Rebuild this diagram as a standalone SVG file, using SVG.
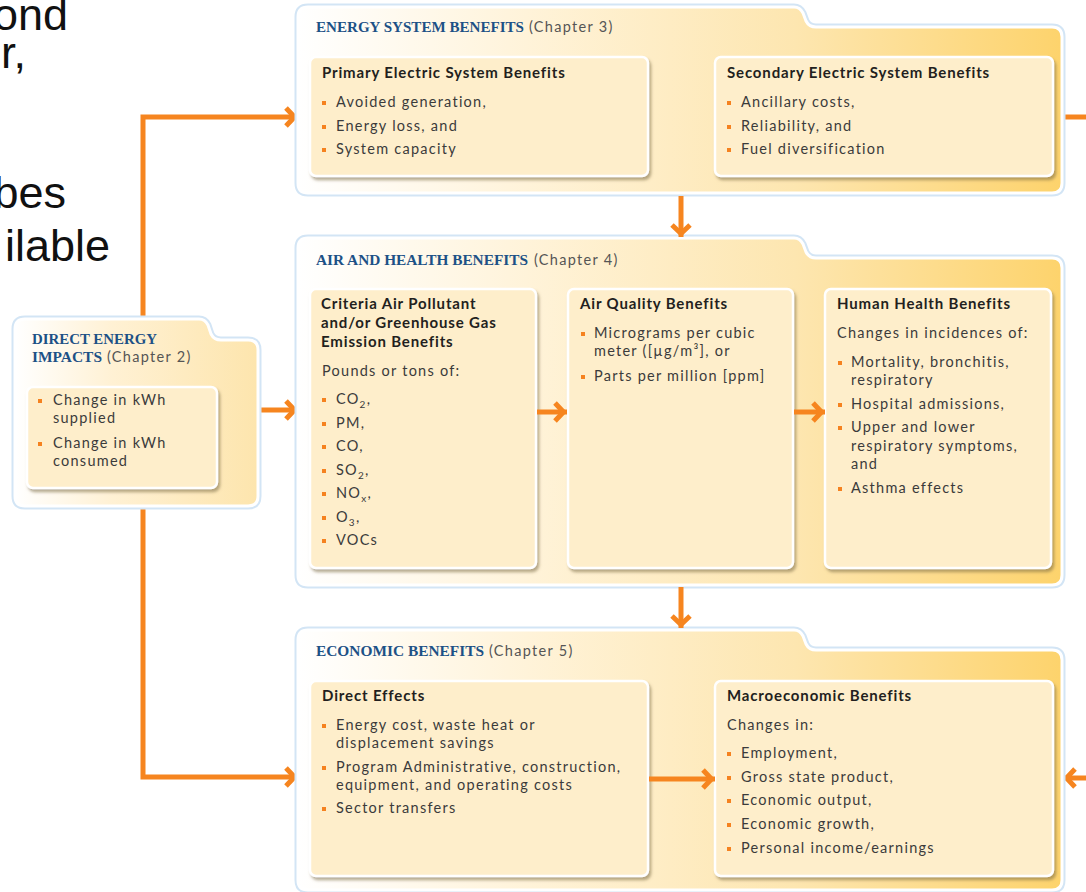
<svg xmlns="http://www.w3.org/2000/svg" width="1086" height="892" viewBox="0 0 1086 892">
<style>
.pn{stroke:#d3e5f5;stroke-width:7;fill:none}
.pw{stroke:#ffffff;stroke-width:3}
.bx{fill:#feeecb;stroke:#ffffff;stroke-width:2.5}
.hd{font-family:"Liberation Serif",serif;font-weight:bold;fill:#1d5186;font-size:15px}
.ch{font-family:Lato,"Liberation Sans",sans-serif;fill:#555;font-size:14.5px;letter-spacing:1.3px}
.tt{font-family:Lato,"Liberation Sans",sans-serif;font-weight:bold;fill:#231f20;font-size:15px;letter-spacing:0.85px}
.bd{font-family:Lato,"Liberation Sans",sans-serif;fill:#3b3b3b;font-size:14.5px;letter-spacing:1.25px}
.sb{font-size:10px}
.bl{fill:#f58220}
.cn{stroke:#f6851f;stroke-width:5;fill:none}
.slide{font-family:"Liberation Sans",Arial,sans-serif;font-size:45px;fill:#111;text-anchor:end}
</style>
<defs>
<linearGradient id="pg" x1="0" y1="0" x2="1" y2="0">
<stop offset="0" stop-color="#ffffff"/>
<stop offset="0.3" stop-color="#fff3d9"/>
<stop offset="0.65" stop-color="#fde6b0"/>
<stop offset="1" stop-color="#fdd36c"/>
</linearGradient>
<linearGradient id="lg" x1="0" y1="0" x2="1" y2="0">
<stop offset="0" stop-color="#ffffff"/>
<stop offset="0.4" stop-color="#fff1d4"/>
<stop offset="1" stop-color="#fde5ad"/>
</linearGradient>
<filter id="sh" x="-5%" y="-5%" width="115%" height="115%">
<feDropShadow dx="2" dy="3" stdDeviation="1.6" flood-color="#7a6a45" flood-opacity="0.55"/>
</filter>
<marker id="ah" markerUnits="userSpaceOnUse" markerWidth="30" markerHeight="30" orient="auto" overflow="visible" refX="0" refY="0">
<path d="M-12,-9 L-3.5,0 L-12,9" fill="none" stroke="#f6851f" stroke-width="5"/>
</marker>
</defs>

<g id="slide-text">
<text class="slide" x="68" y="30">ond</text>
<text class="slide" x="26" y="68">r,</text>
<text class="slide" x="66" y="208">bes</text>
<text class="slide" x="110" y="261">ilable</text>
</g>

<g id="connectors">
<path class="cn" d="M143,320 V117 H298" marker-end="url(#ah)"/>
<path class="cn" d="M258,410 H298" marker-end="url(#ah)"/>
<path class="cn" d="M143,505 V777 H298" marker-end="url(#ah)"/>
<path class="cn" d="M1063,117 H1086"/>
<path class="cn" d="M1086,778 H1063" marker-end="url(#ah)"/>
</g>

<g id="energy-system">
<path class="pn" d="M308,7 H794 Q800,7 803,13 L806,21 Q809,27 816,27 H1052 Q1062,27 1062,37 V183 Q1062,193 1052,193 H308 Q298,193 298,183 V17 Q298,7 308,7 Z"/>
<path class="pw" fill="url(#pg)" d="M308,7 H794 Q800,7 803,13 L806,21 Q809,27 816,27 H1052 Q1062,27 1062,37 V183 Q1062,193 1052,193 H308 Q298,193 298,183 V17 Q298,7 308,7 Z"/>
<text x="316" y="32"><tspan class="hd" textLength="208" lengthAdjust="spacingAndGlyphs">ENERGY SYSTEM BENEFITS</tspan></text>
<text class="ch" x="529" y="32">(Chapter 3)</text>
<g id="primary">
<rect class="bx" x="310" y="57" width="338" height="119" rx="6" filter="url(#sh)"/>
<text class="tt" x="322" y="78">Primary Electric System Benefits</text>
<rect class="bl" x="322" y="101" width="4" height="4"/>
<text class="bd" x="336" y="107">Avoided generation,</text>
<rect class="bl" x="322" y="125" width="4" height="4"/>
<text class="bd" x="336" y="131">Energy loss, and</text>
<rect class="bl" x="322" y="148" width="4" height="4"/>
<text class="bd" x="336" y="154">System capacity</text>
</g>
<g id="secondary">
<rect class="bx" x="715" y="57" width="338" height="119" rx="6" filter="url(#sh)"/>
<text class="tt" x="727" y="78">Secondary Electric System Benefits</text>
<rect class="bl" x="727" y="101" width="4" height="4"/>
<text class="bd" x="741" y="107">Ancillary costs,</text>
<rect class="bl" x="727" y="125" width="4" height="4"/>
<text class="bd" x="741" y="131">Reliability, and</text>
<rect class="bl" x="727" y="148" width="4" height="4"/>
<text class="bd" x="741" y="154">Fuel diversification</text>
</g>
</g>

<g id="air-health">
<path class="pn" d="M308,238 H794 Q800,238 803,244 L806,252 Q809,258 816,258 H1052 Q1062,258 1062,268 V575 Q1062,585 1052,585 H308 Q298,585 298,575 V248 Q298,238 308,238 Z"/>
<path class="pw" fill="url(#pg)" d="M308,238 H794 Q800,238 803,244 L806,252 Q809,258 816,258 H1052 Q1062,258 1062,268 V575 Q1062,585 1052,585 H308 Q298,585 298,575 V248 Q298,238 308,238 Z"/>
<text x="316" y="265"><tspan class="hd" textLength="212" lengthAdjust="spacingAndGlyphs">AIR AND HEALTH BENEFITS</tspan></text>
<text class="ch" x="534" y="265">(Chapter 4)</text>
<g id="criteria">
<rect class="bx" x="310" y="289" width="226" height="279" rx="6" filter="url(#sh)"/>
<text class="tt" x="321" y="309">Criteria Air Pollutant</text>
<text class="tt" x="321" y="328">and/or Greenhouse Gas</text>
<text class="tt" x="321" y="347">Emission Benefits</text>
<text class="bd" x="322" y="376">Pounds or tons of:</text>
<rect class="bl" x="322" y="398" width="4" height="4"/>
<text class="bd" x="336" y="404">CO<tspan class="sb" dy="4">2</tspan><tspan dy="-4">,</tspan></text>
<rect class="bl" x="322" y="422" width="4" height="4"/>
<text class="bd" x="336" y="428">PM,</text>
<rect class="bl" x="322" y="445" width="4" height="4"/>
<text class="bd" x="336" y="451">CO,</text>
<rect class="bl" x="322" y="469" width="4" height="4"/>
<text class="bd" x="336" y="475">SO<tspan class="sb" dy="4">2</tspan><tspan dy="-4">,</tspan></text>
<rect class="bl" x="322" y="492" width="4" height="4"/>
<text class="bd" x="336" y="498">NO<tspan class="sb" dy="4">x</tspan><tspan dy="-4">,</tspan></text>
<rect class="bl" x="322" y="516" width="4" height="4"/>
<text class="bd" x="336" y="522">O<tspan class="sb" dy="4">3</tspan><tspan dy="-4">,</tspan></text>
<rect class="bl" x="322" y="539" width="4" height="4"/>
<text class="bd" x="336" y="545">VOCs</text>
</g>
<g id="air-quality">
<rect class="bx" x="568" y="289" width="225" height="279" rx="6" filter="url(#sh)"/>
<text class="tt" x="580" y="309">Air Quality Benefits</text>
<rect class="bl" x="581" y="332" width="4" height="4"/>
<text class="bd" x="594" y="338">Micrograms per cubic</text>
<text class="bd" x="594" y="356">meter ([µg/m³], or</text>
<rect class="bl" x="581" y="375" width="4" height="4"/>
<text class="bd" x="594" y="381">Parts per million [ppm]</text>
</g>
<g id="human-health">
<rect class="bx" x="825" y="289" width="226" height="279" rx="6" filter="url(#sh)"/>
<text class="tt" x="837" y="309">Human Health Benefits</text>
<text class="bd" x="837" y="338">Changes in incidences of:</text>
<rect class="bl" x="838" y="361" width="4" height="4"/>
<text class="bd" x="851" y="367">Mortality, bronchitis,</text>
<text class="bd" x="851" y="385">respiratory</text>
<rect class="bl" x="838" y="403" width="4" height="4"/>
<text class="bd" x="851" y="409">Hospital admissions,</text>
<rect class="bl" x="838" y="426" width="4" height="4"/>
<text class="bd" x="851" y="432">Upper and lower</text>
<text class="bd" x="851" y="451">respiratory symptoms,</text>
<text class="bd" x="851" y="469">and</text>
<rect class="bl" x="838" y="487" width="4" height="4"/>
<text class="bd" x="851" y="493">Asthma effects</text>
</g>
</g>

<g id="economic">
<path class="pn" d="M308,630 H794 Q800,630 803,636 L806,644 Q809,650 816,650 H1052 Q1062,650 1062,660 V880 Q1062,890 1052,890 H308 Q298,890 298,880 V640 Q298,630 308,630 Z"/>
<path class="pw" fill="url(#pg)" d="M308,630 H794 Q800,630 803,636 L806,644 Q809,650 816,650 H1052 Q1062,650 1062,660 V880 Q1062,890 1052,890 H308 Q298,890 298,880 V640 Q298,630 308,630 Z"/>
<text x="316" y="656"><tspan class="hd" textLength="168" lengthAdjust="spacingAndGlyphs">ECONOMIC BENEFITS</tspan></text>
<text class="ch" x="489" y="656">(Chapter 5)</text>
<g id="direct-effects">
<rect class="bx" x="310" y="681" width="338" height="195" rx="6" filter="url(#sh)"/>
<text class="tt" x="322" y="701">Direct Effects</text>
<rect class="bl" x="322" y="724" width="4" height="4"/>
<text class="bd" x="336" y="730">Energy cost, waste heat or</text>
<text class="bd" x="336" y="748">displacement savings</text>
<rect class="bl" x="322" y="766" width="4" height="4"/>
<text class="bd" x="336" y="772">Program Administrative, construction,</text>
<text class="bd" x="336" y="790">equipment, and operating costs</text>
<rect class="bl" x="322" y="807" width="4" height="4"/>
<text class="bd" x="336" y="813">Sector transfers</text>
</g>
<g id="macro">
<rect class="bx" x="715" y="681" width="338" height="195" rx="6" filter="url(#sh)"/>
<text class="tt" x="727" y="701">Macroeconomic Benefits</text>
<text class="bd" x="727" y="730">Changes in:</text>
<rect class="bl" x="727" y="752" width="4" height="4"/>
<text class="bd" x="741" y="758">Employment,</text>
<rect class="bl" x="727" y="776" width="4" height="4"/>
<text class="bd" x="741" y="782">Gross state product,</text>
<rect class="bl" x="727" y="799" width="4" height="4"/>
<text class="bd" x="741" y="805">Economic output,</text>
<rect class="bl" x="727" y="823" width="4" height="4"/>
<text class="bd" x="741" y="829">Economic growth,</text>
<rect class="bl" x="727" y="847" width="4" height="4"/>
<text class="bd" x="741" y="853">Personal income/earnings</text>
</g>
</g>

<g id="direct-energy">
<path class="pn" d="M25,319 H199 Q205,319 208,325 L211,334 Q214,340 221,340 H248 Q258,340 258,350 V496 Q258,506 248,506 H25 Q15,506 15,496 V329 Q15,319 25,319 Z"/>
<path class="pw" fill="url(#lg)" d="M25,319 H199 Q205,319 208,325 L211,334 Q214,340 221,340 H248 Q258,340 258,350 V496 Q258,506 248,506 H25 Q15,506 15,496 V329 Q15,319 25,319 Z"/>
<text x="32" y="344"><tspan class="hd" textLength="125" lengthAdjust="spacingAndGlyphs">DIRECT ENERGY</tspan></text>
<text x="32" y="362"><tspan class="hd" textLength="70" lengthAdjust="spacingAndGlyphs">IMPACTS</tspan></text>
<text class="ch" x="107" y="362">(Chapter 2)</text>
<rect class="bx" x="27" y="387" width="190" height="101" rx="6" filter="url(#sh)"/>
<rect class="bl" x="38" y="399" width="4" height="4"/>
<text class="bd" x="53" y="405">Change in kWh</text>
<text class="bd" x="53" y="423">supplied</text>
<rect class="bl" x="38" y="442" width="4" height="4"/>
<text class="bd" x="53" y="448">Change in kWh</text>
<text class="bd" x="53" y="466">consumed</text>
</g>

<g id="connectors-inner">
<path class="cn" d="M681,196 V237" marker-end="url(#ah)"/>
<path class="cn" d="M681,587 V628" marker-end="url(#ah)"/>
<path class="cn" d="M537,412 H567" marker-end="url(#ah)"/>
<path class="cn" d="M794,412 H825" marker-end="url(#ah)"/>
<path class="cn" d="M649,779 H715" marker-end="url(#ah)"/>
</g>
</svg>
